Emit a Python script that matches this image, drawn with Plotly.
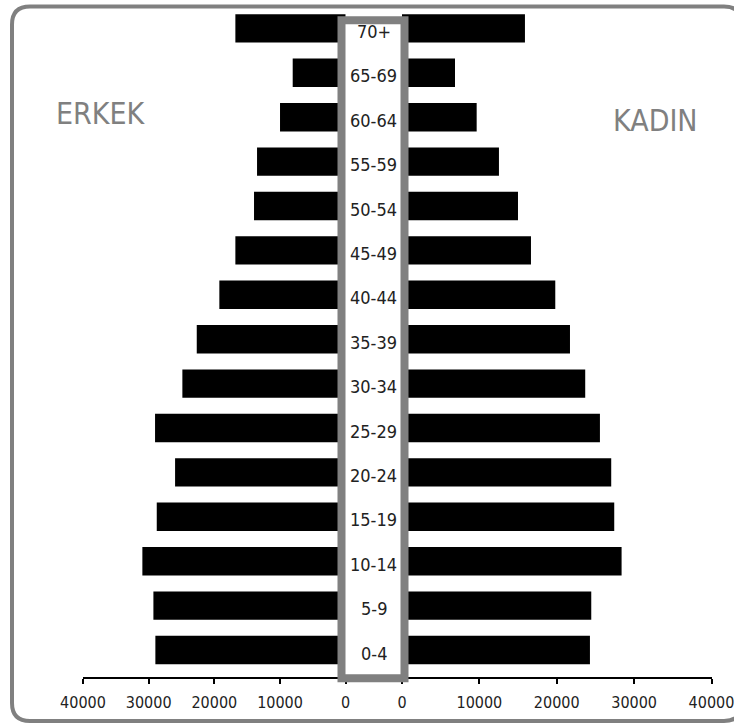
import plotly.graph_objects as go

# ---- data ----
age_groups = ["0-4", "5-9", "10-14", "15-19", "20-24", "25-29", "30-34", "35-39",
              "40-44", "45-49", "50-54", "55-59", "60-64", "65-69", "70+"]
erkek = [28980, 29280, 30960, 28770, 25980, 29030, 24870, 22680,
         19240, 16800, 13960, 13500, 10000, 8070, 16800]
kadin = [24290, 24460, 28380, 27430, 27040, 25580, 23680, 21710,
         19810, 16670, 14990, 12530, 9650, 6850, 15890]
tick_vals = [0, 10000, 20000, 30000, 40000]
tick_text = ["0", "10000", "20000", "30000", "40000"]
left_label = "ERKEK"
right_label = "KADIN"

W, H = 734, 725
def px(x):
    return x / W
def py(y):
    return 1 - y / H

FONT = "DejaVu Sans Condensed, DejaVu Sans, sans-serif"
GRAY = "#808080"

fig = go.Figure()
fig.add_trace(go.Bar(y=age_groups, x=erkek, orientation="h", xaxis="x", yaxis="y",
                     marker=dict(color="black", line=dict(width=0)), width=0.64,
                     showlegend=False, hoverinfo="x+y"))
fig.add_trace(go.Bar(y=age_groups, x=kadin, orientation="h", xaxis="x2", yaxis="y",
                     marker=dict(color="black", line=dict(width=0)), width=0.64,
                     showlegend=False, hoverinfo="x+y"))

axis_common = dict(
    tickmode="array", tickvals=tick_vals, ticktext=tick_text,
    ticks="outside", ticklen=5, tickwidth=2, tickcolor="black",
    showline=True, linewidth=2, linecolor="black",
    showgrid=False, zeroline=False, anchor="y", automargin=False,
    ticklabeloverflow="allow", ticklabelstandoff=5,
    tickfont=dict(family=FONT, size=16, color="#222222"),
    fixedrange=True,
)

# outer rounded border
x0, x1, y0, y1, r = 12, 742, 6.5, 721, 18
path = (f"M {px(x0+r)},{py(y0)} L {px(x1-r)},{py(y0)} Q {px(x1)},{py(y0)} {px(x1)},{py(y0+r)} "
        f"L {px(x1)},{py(y1-r)} Q {px(x1)},{py(y1)} {px(x1-r)},{py(y1)} "
        f"L {px(x0+r)},{py(y1)} Q {px(x0)},{py(y1)} {px(x0)},{py(y1-r)} "
        f"L {px(x0)},{py(y0+r)} Q {px(x0)},{py(y0)} {px(x0+r)},{py(y0)} Z")

shapes = [
    dict(type="path", xref="paper", yref="paper", path=path,
         line=dict(color=GRAY, width=4), fillcolor="rgba(0,0,0,0)", layer="above"),
    dict(type="rect", xref="paper", yref="paper",
         x0=px(341.5), x1=px(404.5), y0=py(678.3), y1=py(20.3),
         line=dict(color=GRAY, width=8), fillcolor="white", layer="above"),
]

annotations = [
    dict(text=left_label, xref="paper", yref="paper", x=px(101.5), y=py(113),
         showarrow=False, font=dict(family=FONT, size=30, color=GRAY),
         xanchor="center", yanchor="middle"),
    dict(text=right_label, xref="paper", yref="paper", x=px(655), y=py(121),
         showarrow=False, font=dict(family=FONT, size=30, color=GRAY),
         xanchor="center", yanchor="middle"),
]
for g in age_groups:
    annotations.append(dict(text=g, xref="paper", yref="y", x=px(373.5), y=g,
                            showarrow=False, yshift=-3,
                            font=dict(family=FONT, size=18, color="#222222"),
                            xanchor="center", yanchor="middle"))

fig.update_layout(
    width=W, height=H, autosize=False,
    margin=dict(l=0, r=0, t=0, b=0, pad=0, autoexpand=False),
    paper_bgcolor="white", plot_bgcolor="white",
    bargap=0.3,
    xaxis=dict(domain=[px(83), px(345.7)], range=[40000, 0], **axis_common),
    xaxis2=dict(domain=[px(402), px(711.5)], range=[0, 40000], **axis_common),
    yaxis=dict(domain=[py(677), 1], range=[-0.608, 14.64], type="category",
               categoryorder="array", categoryarray=age_groups,
               showticklabels=False, showgrid=False, zeroline=False, showline=False,
               ticks="", fixedrange=True, automargin=False),
    shapes=shapes,
    annotations=annotations,
)

fig.write_html("out.html", config={"displayModeBar": False, "responsive": False},
               post_script="document.body.style.margin='0';document.body.style.overflow='hidden';")
